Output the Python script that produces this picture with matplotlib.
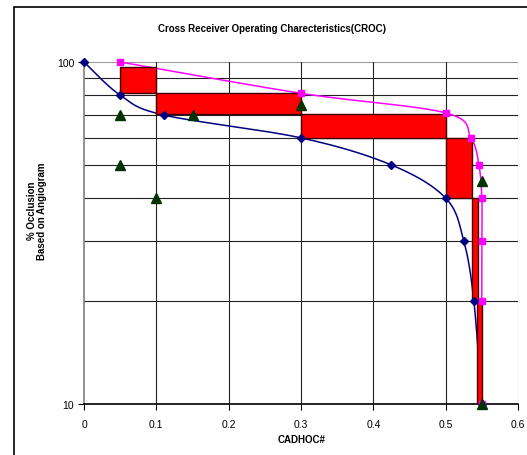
import numpy as np
import matplotlib
matplotlib.use('Agg')
from matplotlib import pyplot as plt
from matplotlib.patches import Rectangle

plt.rcParams['font.family'] = ['Liberation Sans', 'DejaVu Sans']

# series
blue_x = [0, 0.05, 0.11, 0.30, 0.425, 0.50, 0.525, 0.539, 0.55]
blue_y = [100, 80, 70, 60, 50, 40, 30, 20, 10]

pink_x = [0.05, 0.30, 0.50, 0.535, 0.546, 0.55, 0.55, 0.55, 0.55]
pink_y = [100, 81, 71, 60, 50, 40, 30, 20, 10]

tri_x = [0.05, 0.05, 0.10, 0.15, 0.30, 0.55, 0.55]
tri_y = [70, 50, 40, 70, 75, 45, 10]

# red boxes: x0, x1, y_low, y_high
box_x0 = [0.05, 0.10, 0.30, 0.50, 0.536, 0.543]
box_x1 = [0.10, 0.30, 0.50, 0.537, 0.545, 0.55]
box_lo = [81, 70.5, 60, 40, 20, 10]
box_hi = [97, 81, 70.5, 60, 40, 20]


def smooth(xs, ys, n=30):
    # Excel-like smoothed line (bezier, tension 1/6) in x / log10(y) space
    p = np.column_stack([xs, np.log10(ys)])
    out = [p[0]]
    for i in range(len(p) - 1):
        p0 = p[i - 1] if i > 0 else p[i]
        p1, p2 = p[i], p[i + 1]
        p3 = p[i + 2] if i + 2 < len(p) else p[i + 1]
        c1 = p1 + (p2 - p0) / 6
        c2 = p2 - (p3 - p1) / 6
        t = np.linspace(0, 1, n)[1:, None]
        seg = (1 - t)**3 * p1 + 3 * (1 - t)**2 * t * c1 + 3 * (1 - t) * t**2 * c2 + t**3 * p2
        out.extend(seg)
    out = np.array(out)
    return out[:, 0], 10**out[:, 1]


fig = plt.figure(figsize=(5.27, 4.56), dpi=100)
ax = fig.add_axes([84/527, 1 - 405/456, 434/527, 342/456])

ax.set_yscale('log')
ax.set_xlim(0, 0.6)
ax.set_ylim(10, 100)

for v in range(20, 100, 10):
    ax.axhline(v, color='#222222', lw=0.8, zorder=1)
ax.axhline(100, color='#999999', lw=0.8, zorder=1)
for v in [0.1, 0.2, 0.3, 0.4, 0.5]:
    ax.axvline(v, color='#222222', lw=0.8, zorder=1)
ax.axvline(0.6, color='#999999', lw=0.8, zorder=1)

sx, sy = smooth(blue_x, blue_y)
ax.plot(sx, sy, color='#000080', lw=1.1, zorder=2)
sx, sy = smooth(pink_x, pink_y)
ax.plot(sx, sy, color='#FF00FF', lw=1.1, zorder=2)

for x0, x1, lo, hi in zip(box_x0, box_x1, box_lo, box_hi):
    ax.add_patch(Rectangle((x0, lo), x1 - x0, hi - lo, facecolor='#FF0000',
                           edgecolor='#400000', lw=1.0, zorder=3))

ax.plot(blue_x, blue_y, 'D', color='#000080', ms=4, zorder=4, clip_on=False)
ax.plot(pink_x, pink_y, 's', color='#FF00FF', ms=5, zorder=4, clip_on=False)
ax.plot(tri_x, tri_y, '^', color='#003300', ms=7, zorder=4, clip_on=False)

ax.set_yticks([10, 100])
ax.set_yticklabels(['10', '100'])
ax.yaxis.set_minor_locator(matplotlib.ticker.NullLocator())
ax.set_xticks([0, 0.1, 0.2, 0.3, 0.4, 0.5, 0.6])
ax.set_xticklabels(['0', '0.1', '0.2', '0.3', '0.4', '0.5', '0.6'])
ax.tick_params(axis='both', labelsize=7.5, length=4, width=0.8, color='black', pad=3)
ax.tick_params(axis='x', pad=7)

for s in ['top', 'right']:
    ax.spines[s].set_visible(False)
ax.spines['left'].set_color('#808080')
ax.spines['left'].set_linewidth(1.2)
ax.spines['bottom'].set_color('black')
ax.spines['bottom'].set_linewidth(1.2)

fig.text(272/527, 1 - 29/456, 'Cross Receiver Operating Charecteristics(CROC)',
         ha='center', va='center', fontsize=7, fontweight='bold')
fig.text(302/527, 1 - 440/456, 'CADHOC#', ha='center', va='center',
         fontsize=7, fontweight='bold')
fig.text(37/527, 1 - 211/456, '% Occlusion\nBased on Angiogram', ha='center',
         va='center', rotation=90, fontsize=7, fontweight='bold', linespacing=1.1)

# chart frame (only left and top edges fall inside the picture)
fig.patches.append(Rectangle((14/527, -0.05), 1.1, 1 - 8/456 + 0.05,
                             transform=fig.transFigure, fill=False,
                             edgecolor='black', lw=1.2))

fig.savefig('out.png', dpi=100)
